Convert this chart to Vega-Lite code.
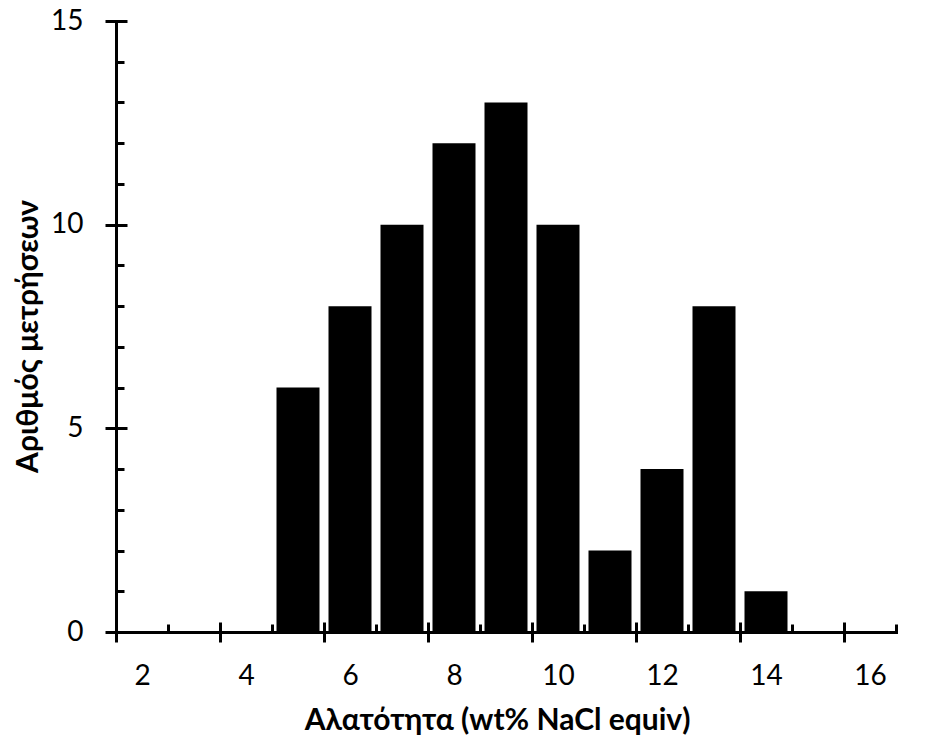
{
  "$schema": "https://vega.github.io/schema/vega-lite/v6.json",
  "autosize": "none",
  "width": 780,
  "height": 611,
  "padding": {"left": 116, "top": 21, "right": 30, "bottom": 108},
  "background": "white",
  "config": {
    "view": {"stroke": null},
    "axis": {
      "domainColor": "black",
      "domainWidth": 3,
      "tickColor": "black",
      "tickWidth": 3,
      "labelColor": "black",
      "titleColor": "black",
      "labelFont": "Lato",
      "titleFont": "Lato",
      "labelFontSize": 28,
      "titleFontSize": 30,
      "titleFontWeight": "bold",
      "grid": false,
      "zindex": 1
    }
  },
  "data": {
    "values": [
      {"salinity": 2, "count": 0},
      {"salinity": 3, "count": 0},
      {"salinity": 4, "count": 0},
      {"salinity": 5, "count": 6},
      {"salinity": 6, "count": 8},
      {"salinity": 7, "count": 10},
      {"salinity": 8, "count": 12},
      {"salinity": 9, "count": 13},
      {"salinity": 10, "count": 10},
      {"salinity": 11, "count": 2},
      {"salinity": 12, "count": 4},
      {"salinity": 13, "count": 8},
      {"salinity": 14, "count": 1},
      {"salinity": 15, "count": 0},
      {"salinity": 16, "count": 0}
    ]
  },
  "resolve": {"axis": {"x": "independent", "y": "independent"}},
  "layer": [
    {
      "mark": {"type": "bar", "color": "black", "width": 43},
      "encoding": {
        "x": {
          "field": "salinity", "type": "quantitative",
          "scale": {"domain": [1.5, 16.5], "nice": false, "zero": false, "padding": 0},
          "axis": {
            "orient": "bottom",
            "values": [2, 4, 6, 8, 10, 12, 14, 16],
            "ticks": false,
            "tickSize": 0,
            "labelPadding": 30,
            "labelFlush": false,
            "labelOverlap": false,
            "domainCap": "square",
            "title": "Αλατότητα (wt% NaCl equiv)",
            "titleX": 381,
            "titleY": 88,
            "titleBaseline": "middle",
            "titleAlign": "center"
          }
        },
        "y": {
          "field": "count", "type": "quantitative",
          "scale": {"domain": [0, 15], "nice": false},
          "axis": {
            "orient": "left",
            "values": [0, 5, 10, 15],
            "tickSize": 11,
            "labelPadding": 22,
            "labelFlush": false,
            "labelOverlap": false,
            "domainCap": "square",
            "title": "Αριθμός μετρήσεων",
            "titleAngle": -90,
            "titleX": -88,
            "titleY": 315,
            "titleBaseline": "middle",
            "titleAlign": "center"
          }
        }
      }
    },
    {
      "mark": {"type": "point", "opacity": 0},
      "encoding": {
        "x": {
          "field": "salinity", "type": "quantitative",
          "axis": {
            "orient": "bottom",
            "values": [1.5, 3.5, 5.5, 7.5, 9.5, 11.5, 13.5, 15.5],
            "tickSize": 10,
            "labels": false,
            "domain": false,
            "title": null
          }
        },
        "y": {
          "field": "count", "type": "quantitative",
          "axis": {
            "orient": "left",
            "values": [0, 5, 10, 15],
            "tickSize": -11,
            "labels": false,
            "domain": false,
            "title": null
          }
        }
      }
    },
    {
      "mark": {"type": "point", "opacity": 0},
      "encoding": {
        "x": {
          "field": "salinity", "type": "quantitative",
          "axis": {
            "orient": "bottom",
            "values": [1.5, 3.5, 5.5, 7.5, 9.5, 11.5, 13.5, 15.5],
            "tickSize": -10,
            "labels": false,
            "domain": false,
            "title": null
          }
        },
        "y": {
          "field": "count", "type": "quantitative",
          "axis": {
            "orient": "left",
            "values": [1, 2, 3, 4, 6, 7, 8, 9, 11, 12, 13, 14],
            "tickSize": -8,
            "labels": false,
            "domain": false,
            "title": null
          }
        }
      }
    },
    {
      "mark": {"type": "point", "opacity": 0},
      "encoding": {
        "x": {
          "field": "salinity", "type": "quantitative",
          "axis": {
            "orient": "bottom",
            "values": [2.5, 4.5, 6.5, 8.5, 10.5, 12.5, 14.5, 16.5],
            "tickSize": -8,
            "labels": false,
            "domain": false,
            "title": null
          }
        },
        "y": {
          "field": "count", "type": "quantitative",
          "axis": null
        }
      }
    }
  ]
}
